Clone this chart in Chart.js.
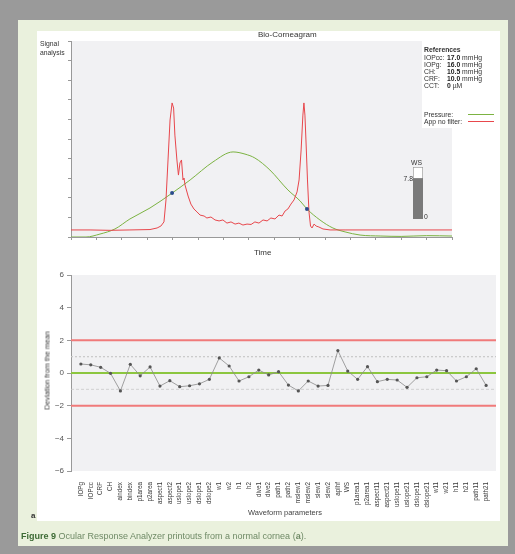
<!DOCTYPE html>
<html>
<head>
<meta charset="utf-8">
<script src="https://cdn.jsdelivr.net/npm/chart.js@4.4.0/dist/chart.umd.min.js"></script>
<style>
  body { margin:0; width:515px; height:554px; background:#9a9a9a; position:relative; overflow:hidden;
         font-family:"Liberation Sans", Arial, sans-serif; color:#333; }
  .abs { position:absolute; white-space:nowrap; }
  #page { left:18px; top:20px; width:490px; height:526px; background:#eaf1dd; }
  #panel { left:37px; top:31px; width:463px; height:490px; background:#fff; }
  #top { left:37px; top:31px; width:463px; height:230px; }
  #bottom { left:37px; top:265px; width:463px; height:255px; }
  #ws { left:413px; top:167px; width:10px; height:52px; }
  .sm { font-size:6.8px; line-height:7px; }
  #refbox { left:422px; top:40px; width:78px; height:88px; background:#fff; }
</style>
</head>
<body>
<div id="page" class="abs"></div>
<div id="panel" class="abs"></div>
<canvas id="top" class="abs" width="463" height="230"></canvas>
<canvas id="bottom" class="abs" width="463" height="255"></canvas>

<div class="abs" style="left:258px;top:30px;font-size:8px;">Bio-Corneagram</div>
<div class="abs sm" style="left:40px;top:40px;">Signal</div>
<div class="abs sm" style="left:40px;top:49px;">analysis</div>
<div class="abs" style="left:254px;top:248px;font-size:8px;">Time</div>

<div id="refbox" class="abs"></div>
<div class="abs sm" style="left:424px;top:46px;font-weight:bold;">References</div>
<div id="reflist"></div>
<div class="abs sm" style="left:424px;top:111px;">Pressure:</div>
<div class="abs" style="left:468px;top:114px;width:26px;height:1px;background:#7cb342;"></div>
<div class="abs sm" style="left:424px;top:118px;">App no filter:</div>
<div class="abs" style="left:468px;top:121px;width:26px;height:1px;background:#e8474c;"></div>

<div class="abs sm" style="left:411px;top:159px;">WS</div>
<canvas id="ws" class="abs" width="10" height="52"></canvas>
<div id="wsval" class="abs sm" style="left:400px;top:175px;width:13px;text-align:right;"></div>
<div class="abs sm" style="left:424px;top:213px;">0</div>

<div class="abs" style="left:47px;top:370px;width:0;height:0;">
  <div class="abs" style="left:-60px;top:-4px;width:120px;text-align:center;font-size:7.2px;transform:rotate(-90deg);">Deviation from the mean</div>
</div>
<div class="abs" style="left:248px;top:508px;font-size:7.5px;color:#444;">Waveform parameters</div>
<div class="abs" style="left:31px;top:511px;font-size:8px;font-weight:bold;">a</div>
<div class="abs" style="left:21px;top:531px;font-size:9px;color:#6f8a66;"><b style="color:#3d6b35;">Figure 9</b> Ocular Response Analyzer printouts from a normal cornea (<b>a</b>).</div>

<script>
// Bio-Corneagram: time axis 0..15, signal axis 0..10
const pressureTime   = [0, 0.59, 1.14, 1.73, 2.32, 3.11, 3.98, 4.69, 5.59, 6.38, 6.85, 7.24, 7.83, 8.54, 9.02, 9.29, 9.80, 10.31, 10.79, 11.38, 12.2, 13.0, 14.0, 15];
const pressureSignal = [0, 0, 0.15, 0.41, 0.92, 1.48, 2.24, 2.91, 3.83, 4.34, 4.23, 4.03, 3.42, 2.40, 1.84, 1.43, 0.87, 0.46, 0.26, 0.10, 0.05, 0.03, 0.07, 0.05];

const applanTime = [0, 0.75, 1.54, 2.32, 3.11, 3.39, 3.54, 3.66, 3.74, 3.82, 3.90, 3.98, 4.04, 4.09, 4.17, 4.23,
  4.29, 4.35, 4.41, 4.45, 4.49, 4.61, 4.72, 4.84, 4.96, 5.08, 5.24, 5.35, 5.51, 5.67, 5.83, 5.98, 6.14, 6.30,
  6.46, 6.61, 6.77, 6.93, 7.09, 7.24, 7.40, 7.56, 7.72, 7.87, 8.03, 8.19, 8.31, 8.43, 8.54, 8.66, 8.78, 8.90,
  8.98, 9.06, 9.13, 9.17, 9.21, 9.25, 9.31, 9.37, 9.43, 9.49, 9.57, 9.65, 9.76, 9.92, 10.20, 10.79, 15];
const applanSignal = [0.36, 0.36, 0.34, 0.36, 0.38, 0.46, 0.56, 0.77, 1.89, 3.93, 5.97, 6.84, 6.58, 5.20, 3.93, 3.16,
  3.78, 3.93, 2.91, 3.01, 2.65, 2.09, 1.68, 1.43, 1.28, 1.12, 1.07, 0.97, 1.02, 0.87, 0.82, 0.87, 0.71, 0.77,
  0.66, 0.71, 0.61, 0.66, 0.64, 0.77, 0.71, 0.87, 0.82, 0.97, 0.92, 1.12, 1.07, 1.33, 1.43, 1.68, 1.89, 2.30,
  2.91, 4.44, 6.22, 6.84, 6.22, 4.95, 2.91, 1.28, 0.56, 0.46, 0.66, 0.56, 0.51, 0.41, 0.36, 0.36, 0.36];

const markerTime   = [3.98, 9.29];
const markerSignal = [2.24, 1.43];

const references = [
  ["IOPcc:", "17.0", "mmHg"],
  ["IOPg:", "16.0", "mmHg"],
  ["CH:", "10.5", "mmHg"],
  ["CRF:", "10.0", "mmHg"],
  ["CCT:", "0", "\u00b5M"]
];

const wsValue = 7.8;
const wsMax = 10;

// waveform parameters, deviation from the mean
const params = ["IOPg", "IOPcc", "CRF", "CH", "aindex", "bindex", "p1area", "p2area", "aspect1", "aspect2",
  "uslope1", "uslope2", "dslope1", "dslope2", "w1", "w2", "h1", "h2", "dive1", "dive2", "path1", "path2",
  "mslew1", "mslew2", "slew1", "slew2", "aplhf", "WS", "p1area1", "p2area1", "aspect11", "aspect21",
  "uslope11", "uslope21", "dslope11", "dslope21", "w11", "w21", "h11", "h21", "path11", "path21"];
const deviation = [0.55, 0.5, 0.35, -0.02, -1.1, 0.53, -0.17, 0.37, -0.8, -0.47, -0.84, -0.78, -0.66, -0.39,
  0.92, 0.43, -0.49, -0.23, 0.18, -0.12, 0.08, -0.74, -1.1, -0.49, -0.8, -0.76, 1.37, 0.12, -0.39, 0.39,
  -0.53, -0.39, -0.43, -0.88, -0.29, -0.23, 0.18, 0.14, -0.49, -0.23, 0.26, -0.76];
const limitLines = [2, -2];
const sdLines = [1, -1];

// references list
let html = "";
references.forEach((r, i) => {
  const top = 54 + i * 7.1;
  html += `<div class="abs sm" style="left:424px;top:${top}px;">${r[0]}</div>`;
  html += `<div class="abs sm" style="left:447px;top:${top}px;"><b style="color:#222">${r[1]}</b> ${r[2]}</div>`;
});
document.getElementById("reflist").innerHTML = html;
document.getElementById("wsval").textContent = wsValue;

const plotBg = {
  id: "plotBg",
  beforeDraw(chart) {
    const { ctx, chartArea: a } = chart;
    ctx.save();
    ctx.fillStyle = "#f1f1f3";
    ctx.fillRect(a.left, a.top, a.right - a.left, a.bottom - a.top);
    ctx.restore();
  }
};

const pts = (xs, ys) => xs.map((x, i) => ({ x: x, y: ys[i] }));

// ----------------- top chart -----------------
new Chart(document.getElementById("top"), {
  type: "line",
  data: {
    datasets: [
      { data: pts(markerTime, markerSignal), showLine: false, pointRadius: 2, pointBackgroundColor: "#2b4c8c",
        pointBorderWidth: 0 },
      { data: pts(applanTime, applanSignal), borderColor: "#e8474c", borderWidth: 1, pointRadius: 0, tension: 0 },
      { data: pts(pressureTime, pressureSignal), borderColor: "#7cb342", borderWidth: 1, pointRadius: 0,
        cubicInterpolationMode: "monotone" }
    ]
  },
  options: {
    responsive: false, animation: false,
    layout: { padding: { left: 0, top: 10, right: 48, bottom: 0 } },
    plugins: { legend: { display: false }, tooltip: { enabled: false } },
    scales: {
      x: {
        type: "linear", min: 0, max: 15,
        ticks: { display: false, stepSize: 1 },
        grid: { drawOnChartArea: false, tickLength: 3, color: "#999" },
        border: { color: "#999" },
        afterFit: s => { s.height = 24; s.paddingLeft = 0; s.paddingRight = 0; }
      },
      y: {
        min: 0, max: 10,
        ticks: { display: false, stepSize: 1 },
        grid: { drawOnChartArea: false, tickLength: 3, color: "#999" },
        border: { color: "#999" },
        afterFit: s => { s.width = 34; }
      }
    }
  },
  plugins: [plotBg]
});

// ----------------- WS bar -----------------
new Chart(document.getElementById("ws"), {
  type: "bar",
  data: {
    labels: ["WS"],
    datasets: [
      { data: [wsValue], backgroundColor: "#7a7a7a", borderWidth: 0 },
      { data: [wsMax], backgroundColor: "#ffffff", borderColor: "#9a9a9a", borderWidth: 1 }
    ]
  },
  options: {
    responsive: false, animation: false,
    layout: { padding: 0 },
    datasets: { bar: { grouped: false, barPercentage: 1, categoryPercentage: 1 } },
    plugins: { legend: { display: false }, tooltip: { enabled: false } },
    scales: { x: { display: false }, y: { display: false, min: 0, max: wsMax } }
  }
});

// ----------------- bottom chart -----------------
const nSlots = params.length + 1;
const hLine = (v, color, width, dash) => ({
  data: [{ x: 0, y: v }, { x: nSlots, y: v }],
  borderColor: color, borderWidth: width, borderDash: dash || [], pointRadius: 0
});

new Chart(document.getElementById("bottom"), {
  type: "line",
  data: {
    datasets: [
      { data: params.map((p, i) => ({ x: i + 1, y: deviation[i] })), borderColor: "#8a8a8a", borderWidth: 0.8,
        pointRadius: 1.6, pointBackgroundColor: "#555", pointBorderWidth: 0, tension: 0 },
      hLine(0, "#8cc63f", 2),
      hLine(sdLines[0], "#c8c8c8", 1.2, [2, 2]),
      hLine(sdLines[1], "#c8c8c8", 0.8, [3, 2]),
      hLine(limitLines[0], "#f07a7a", 2),
      hLine(limitLines[1], "#f07a7a", 2)
    ]
  },
  options: {
    responsive: false, animation: false,
    layout: { padding: { left: 0, top: 10, right: 4, bottom: 0 } },
    plugins: { legend: { display: false }, tooltip: { enabled: false } },
    scales: {
      x: {
        type: "linear", min: 0, max: nSlots,
        afterBuildTicks: s => { s.ticks = params.map((p, i) => ({ value: i + 1 })); },
        ticks: {
          autoSkip: false, maxRotation: 90, minRotation: 90, padding: 3,
          font: { family: "Liberation Sans", size: 6.3 }, color: "#3a3a3a",
          callback: v => params[v - 1] || ""
        },
        grid: { display: false },
        border: { display: false },
        afterFit: s => { s.height = 49; s.paddingLeft = 0; s.paddingRight = 0; }
      },
      y: {
        min: -6, max: 6,
        ticks: { stepSize: 2, padding: 3, font: { family: "Liberation Sans", size: 8 }, color: "#555",
          callback: v => String(v).replace("-", "\u2212") },
        grid: { drawOnChartArea: false, tickLength: 4, color: "#999" },
        border: { color: "#999" },
        afterFit: s => { s.width = 34; }
      }
    }
  },
  plugins: [plotBg]
});
</script>
</body>
</html>
